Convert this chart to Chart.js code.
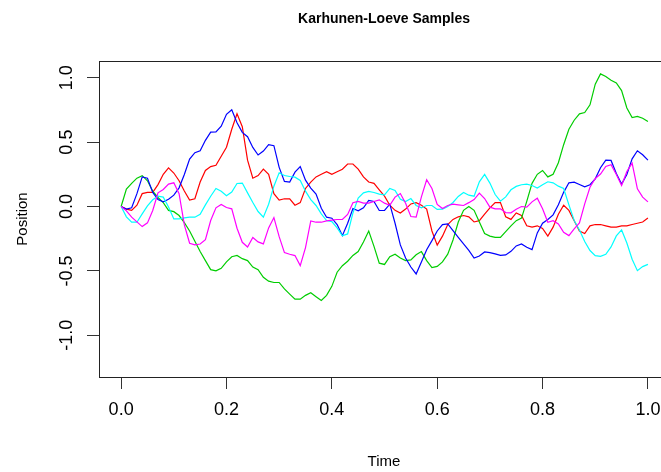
<!DOCTYPE html>
<html>
<head>
<meta charset="utf-8">
<script src="https://cdn.jsdelivr.net/npm/chart.js@4.4.1/dist/chart.umd.min.js"></script>
<style>
  html, body { margin: 0; padding: 0; background: #fff; overflow: hidden; }
  #wrap { width: 680px; height: 472px; }
</style>
</head>
<body>
<div id="wrap"><canvas id="klChart" width="680" height="472"></canvas></div>
<script>
const times = [0, 0.01, 0.02, 0.03, 0.04, 0.05, 0.06, 0.07, 0.08, 0.09,
    0.10, 0.11, 0.12, 0.13, 0.14, 0.15, 0.16, 0.17, 0.18, 0.19,
    0.20, 0.21, 0.22, 0.23, 0.24, 0.25, 0.26, 0.27, 0.28, 0.29,
    0.30, 0.31, 0.32, 0.33, 0.34, 0.35, 0.36, 0.37, 0.38, 0.39,
    0.40, 0.41, 0.42, 0.43, 0.44, 0.45, 0.46, 0.47, 0.48, 0.49,
    0.50, 0.51, 0.52, 0.53, 0.54, 0.55, 0.56, 0.57, 0.58, 0.59,
    0.60, 0.61, 0.62, 0.63, 0.64, 0.65, 0.66, 0.67, 0.68, 0.69,
    0.70, 0.71, 0.72, 0.73, 0.74, 0.75, 0.76, 0.77, 0.78, 0.79,
    0.80, 0.81, 0.82, 0.83, 0.84, 0.85, 0.86, 0.87, 0.88, 0.89,
    0.90, 0.91, 0.92, 0.93, 0.94, 0.95, 0.96, 0.97, 0.98, 0.99, 1.00];

const red = [0, -0.02, -0.03, 0.01, 0.10, 0.11, 0.11, 0.17, 0.25, 0.30,
    0.26, 0.20, 0.12, 0.05, 0.06, 0.19, 0.28, 0.31, 0.32, 0.39,
    0.46, 0.60, 0.72, 0.62, 0.36, 0.22, 0.24, 0.29, 0.25, 0.10,
    0.05, 0.06, 0.06, 0.01, 0.03, 0.14, 0.19, 0.23, 0.25, 0.27,
    0.25, 0.27, 0.29, 0.33, 0.33, 0.29, 0.23, 0.19, 0.18, 0.13,
    0.08, 0.01, -0.03, -0.05, -0.02, 0.02, 0.03, 0.01, -0.02, -0.19,
    -0.30, -0.23, -0.14, -0.10, -0.08, -0.07, -0.08, -0.12, -0.11, -0.06,
    -0.01, 0.03, 0.03, -0.08, -0.10, -0.05, -0.07, -0.15, -0.16, -0.15,
    -0.17, -0.23, -0.16, -0.06, 0.01, -0.03, -0.11, -0.19, -0.21, -0.15,
    -0.14, -0.14, -0.15, -0.16, -0.16, -0.15, -0.15, -0.14, -0.13, -0.12, -0.09];

const green = [0, 0.135, 0.18, 0.22, 0.24, 0.20, 0.12, 0.07, 0.03, -0.03,
    -0.04, -0.07, -0.125, -0.19, -0.27, -0.35, -0.42, -0.49, -0.50, -0.48,
    -0.43, -0.39, -0.38, -0.405, -0.42, -0.47, -0.49, -0.55, -0.58, -0.59,
    -0.59, -0.64, -0.68, -0.72, -0.72, -0.69, -0.67, -0.70, -0.73, -0.69,
    -0.62, -0.51, -0.46, -0.425, -0.38, -0.35, -0.275, -0.19, -0.31, -0.44,
    -0.45, -0.39, -0.37, -0.40, -0.42, -0.415, -0.375, -0.35, -0.42, -0.475,
    -0.465, -0.43, -0.37, -0.26, -0.12, -0.03, 0.0, -0.03, -0.12, -0.21,
    -0.23, -0.24, -0.24, -0.195, -0.15, -0.11, -0.09, 0.04, 0.18, 0.25,
    0.28, 0.23, 0.25, 0.34, 0.48, 0.60, 0.67, 0.72, 0.73, 0.79,
    0.95, 1.03, 1.01, 0.98, 0.96, 0.90, 0.765, 0.69, 0.70, 0.685, 0.66];

const blue = [0, -0.02, -0.01, 0.10, 0.23, 0.22, 0.11, 0.054, 0.036, 0.057,
    0.088, 0.145, 0.249, 0.368, 0.418, 0.433, 0.514, 0.578, 0.58, 0.623,
    0.716, 0.752, 0.651, 0.576, 0.542, 0.459, 0.40, 0.431, 0.48, 0.472,
    0.304, 0.195, 0.19, 0.267, 0.31, 0.205, 0.143, 0.096, -0.013, -0.083,
    -0.091, -0.14, -0.226, -0.13, -0.016, -0.034, -0.01, 0.047, 0.039, -0.031,
    -0.03, 0.018, -0.13, -0.298, -0.40, -0.47, -0.524, -0.431, -0.335, -0.265,
    -0.19, -0.14, -0.135, -0.187, -0.239, -0.291, -0.34, -0.40, -0.384, -0.353,
    -0.358, -0.368, -0.379, -0.376, -0.348, -0.306, -0.291, -0.316, -0.335, -0.205,
    -0.13, -0.101, -0.065, 0.013, 0.11, 0.184, 0.189, 0.171, 0.153, 0.169,
    0.215, 0.301, 0.36, 0.358, 0.257, 0.174, 0.249, 0.37, 0.433, 0.402, 0.36];

const cyan = [0, -0.08, -0.122, -0.122, -0.057, 0.005, 0.052, 0.08, 0.073, -0.003,
    -0.096, -0.096, -0.088, -0.083, -0.083, -0.06, 0.013, 0.08, 0.14, 0.119,
    0.083, 0.112, 0.179, 0.182, 0.106, 0.031, -0.039, -0.083, 0.018, 0.158,
    0.262, 0.241, 0.233, 0.228, 0.202, 0.119, 0.054, 0.008, -0.057, -0.109,
    -0.117, -0.166, -0.228, -0.213, -0.05, 0.065, 0.106, 0.117, 0.109, 0.096,
    0.09, 0.14, 0.125, 0.057, 0.039, 0.062, 0.008, -0.01, 0.008, 0.008,
    -0.023, -0.021, 0.0, 0.031, 0.078, 0.109, 0.088, 0.08, 0.192, 0.249,
    0.182, 0.093, 0.042, 0.075, 0.13, 0.156, 0.169, 0.174, 0.163, 0.143,
    0.169, 0.192, 0.184, 0.158, 0.14, 0.013, -0.109, -0.182, -0.272, -0.342,
    -0.381, -0.387, -0.371, -0.314, -0.228, -0.182, -0.283, -0.41, -0.498, -0.467, -0.449];

const magenta = [0, -0.034, -0.083, -0.119, -0.156, -0.127, -0.031, 0.106, 0.132, 0.174,
    0.184, 0.10, -0.143, -0.285, -0.298, -0.291, -0.257, -0.109, -0.01, 0.016,
    -0.008, -0.018, -0.169, -0.278, -0.314, -0.241, -0.275, -0.29, -0.166, -0.086,
    -0.234, -0.358, -0.371, -0.381, -0.459, -0.319, -0.112, -0.122, -0.122, -0.112,
    -0.106, -0.101, -0.101, -0.062, 0.029, 0.039, 0.026, 0.026, 0.039, 0.052,
    0.026, 0.01, 0.073, 0.101, 0.026, -0.078, -0.083, 0.075, 0.208, 0.14,
    0.016, -0.016, 0.008, 0.018, 0.013, 0.008, 0.03, 0.054, 0.104, 0.062,
    -0.005, -0.018, -0.018, -0.047, -0.049, -0.021, 0.0, -0.005, 0.036, 0.065,
    -0.018, -0.122, -0.11, -0.135, -0.2, -0.226, -0.174, -0.127, 0.021, 0.15,
    0.218, 0.252, 0.311, 0.324, 0.249, 0.163, 0.272, 0.337, 0.137, 0.073, 0.036];

const xTicks = [0, 0.2, 0.4, 0.6, 0.8, 1.0];
const yTicks = [-1.0, -0.5, 0.0, 0.5, 1.0];

const toPoints = ys => times.map((t, i) => ({ x: t, y: ys[i] }));

// R-style box round the plot region
const plotBox = {
    id: 'plotBox',
    afterDraw(chart) {
        const { ctx, chartArea: a } = chart;
        ctx.save();
        ctx.strokeStyle = '#222';
        ctx.lineWidth = 1;
        ctx.strokeRect(a.left + 0.5, a.top + 0.5, a.right - a.left, a.bottom - a.top);
        ctx.restore();
    }
};

Chart.defaults.font.family = "'Liberation Sans', Arial, sans-serif";
Chart.defaults.color = '#000';

const line = (data, color, order) => ({
    data: toPoints(data),
    borderColor: color,
    borderWidth: 1.2,
    pointRadius: 0,
    fill: false,
    tension: 0,
    order: order
});

const ctx = document.getElementById('klChart').getContext('2d');
new Chart(ctx, {
    type: 'line',
    data: {
        datasets: [
            line(red, '#FF0000', 5),
            line(green, '#00CD00', 4),
            line(blue, '#0000FF', 3),
            line(cyan, '#00FFFF', 2),
            line(magenta, '#FF00FF', 1)
        ]
    },
    options: {
        responsive: false,
        animation: false,
        devicePixelRatio: 1,
        layout: { padding: { left: 0, right: 11, top: 0, bottom: 0 } },
        scales: {
            x: {
                type: 'linear',
                min: -0.042,
                max: 1.04,
                afterBuildTicks: s => { s.ticks = xTicks.map(v => ({ value: v })); },
                afterFit: s => { s.height = 95; },
                border: { display: false },
                grid: { drawOnChartArea: false, color: '#333', tickLength: 12 },
                ticks: {
                    autoSkip: false,
                    maxRotation: 0,
                    padding: 10,
                    font: { size: 18 },
                    callback: v => v.toFixed(1)
                },
                title: {
                    display: true,
                    text: 'Time',
                    font: { size: 15 },
                    padding: { top: 0, bottom: 1 }
                }
            },
            y: {
                min: -1.324,
                max: 1.13,
                afterBuildTicks: s => { s.ticks = yTicks.map(v => ({ value: v })); },
                afterFit: s => { s.width = 99; },
                border: { display: false },
                grid: { drawOnChartArea: false, color: '#333', tickLength: 12 },
                ticks: {
                    minRotation: 90,
                    maxRotation: 90,
                    crossAlign: 'center',
                    padding: 4,
                    font: { size: 18 },
                    callback: v => v.toFixed(1)
                },
                title: {
                    display: true,
                    text: 'Position',
                    font: { size: 15 },
                    padding: { top: 14, bottom: 0 }
                }
            }
        },
        plugins: {
            legend: { display: false },
            tooltip: { enabled: false },
            title: {
                display: true,
                text: 'Karhunen-Loeve Samples',
                fullSize: false,
                font: { size: 14, weight: 'bold' },
                padding: { top: 11, bottom: 33.2 }
            }
        }
    },
    plugins: [plotBox]
});
</script>
</body>
</html>
